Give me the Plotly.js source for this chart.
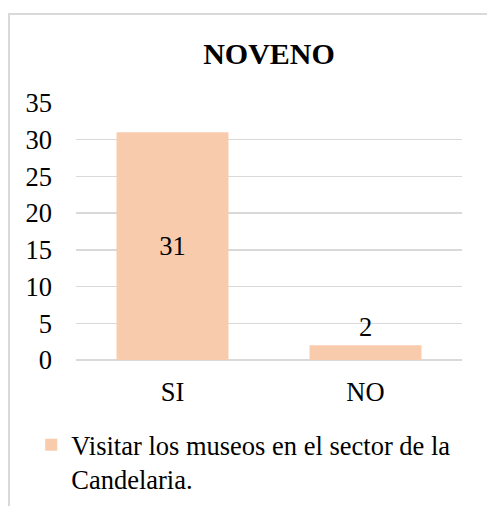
<!DOCTYPE html>
<html>
<head>
<meta charset="utf-8">
<script src="https://cdn.plot.ly/plotly-3.0.1.min.js"></script>
<style>
  html, body { margin: 0; padding: 0; background: #fff; overflow: hidden; }
  #chart { position: absolute; left: 0; top: 0; width: 487px; height: 506px; }
  #frame { position: absolute; left: 8px; top: 13px; width: 700px; height: 700px;
           border: 2px solid #d9d9d9; box-sizing: border-box; pointer-events: none; }
</style>
</head>
<body>
<div id="chart"></div>
<div id="frame"></div>
<script>
const categories = ["SI", "NO"];
const values = [31, 2];
const seriesName = "Visitar los museos en el sector de la<br>Candelaria.";
const chartTitle = "NOVENO";
const yTicks = [0, 5, 10, 15, 20, 25, 30, 35];

const serif = "Liberation Serif";
const fs = 26.5;

const trace = {
  type: "bar",
  x: categories,
  y: values,
  name: seriesName,
  text: values.map(String),
  texttemplate: "%{text}",
  textposition: ["inside", "outside"],
  insidetextanchor: "middle",
  textfont: { family: serif, size: fs, color: "#000" },
  insidetextfont: { family: serif, size: fs, color: "#000" },
  outsidetextfont: { family: serif, size: fs, color: "#000" },
  cliponaxis: false,
  marker: { color: "#f8cbad", line: { width: 0 } },
  width: 0.58,
  showlegend: true,
  hoverinfo: "skip"
};

const layout = {
  width: 487,
  height: 506,
  margin: { l: 76, r: 25, t: 103, b: 146, autoexpand: false },
  paper_bgcolor: "#fff",
  plot_bgcolor: "#fff",
  font: { family: serif, size: fs, color: "#000" },
  title: {
    text: "<b>" + chartTitle + "</b>",
    font: { family: serif, size: 30, color: "#000" },
    x: 0.5, xref: "paper", xanchor: "center",
    y: 1 - 53 / 506, yref: "container", yanchor: "middle"
  },
  xaxis: {
    type: "category",
    showgrid: false,
    showline: false,
    zeroline: false,
    ticks: "",
    tickfont: { family: serif, size: fs, color: "#000" },
    ticklabelstandoff: 13
  },
  yaxis: {
    range: [0, 35],
    tickvals: yTicks,
    ticktext: yTicks.map(String),
    showgrid: true,
    gridcolor: "#d9d9d9",
    gridwidth: 1.5,
    zeroline: true,
    zerolinecolor: "#d9d9d9",
    zerolinewidth: 1.5,
    showline: false,
    ticks: "",
    tickfont: { family: serif, size: fs, color: "#000" },
    ticklabelstandoff: 23
  },
  showlegend: true,
  legend: {
    orientation: "h",
    x: -0.116, xanchor: "left",
    y: -0.237, yanchor: "top",
    valign: "top",
    font: { family: serif, size: fs, color: "#000" },
    bgcolor: "rgba(0,0,0,0)",
    itemwidth: 30
  }
};

Plotly.newPlot("chart", [trace], layout, { displayModeBar: false, staticPlot: true });
</script>
</body>
</html>
